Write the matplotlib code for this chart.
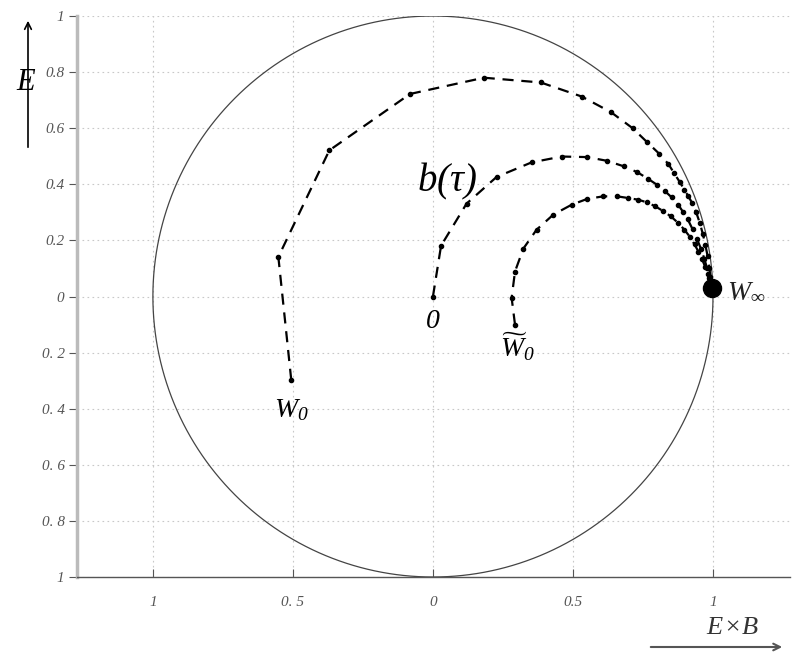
import numpy as np
import matplotlib
matplotlib.use("Agg")
import matplotlib.pyplot as plt

plt.rcParams['mathtext.fontset'] = 'custom'
plt.rcParams['mathtext.rm'] = 'Liberation Serif:italic'
plt.rcParams['mathtext.it'] = 'Liberation Serif:italic'
plt.rcParams['mathtext.bf'] = 'Liberation Serif:bold'
plt.rcParams['mathtext.fallback'] = 'stix'

# --- data ---
outer_x = [-0.506, -0.552, -0.370, -0.082, 0.182, 0.385, 0.531, 0.636, 0.713, 0.765,
           0.808, 0.841, 0.861, 0.882, 0.898, 0.912, 0.926, 0.940, 0.953, 0.964,
           0.973, 0.981, 0.987, 0.991, 0.995]
outer_y = [-0.297, 0.141, 0.521, 0.722, 0.780, 0.763, 0.713, 0.657, 0.600, 0.550,
           0.509, 0.472, 0.440, 0.407, 0.381, 0.357, 0.333, 0.300, 0.262, 0.222,
           0.183, 0.143, 0.103, 0.068, 0.031]

mid_x = [0.0, 0.029, 0.120, 0.227, 0.352, 0.460, 0.551, 0.620, 0.682, 0.730,
         0.769, 0.799, 0.829, 0.852, 0.876, 0.894, 0.910, 0.927, 0.943, 0.957,
         0.969, 0.979, 0.987, 0.995]
mid_y = [0.0, 0.181, 0.331, 0.426, 0.478, 0.499, 0.497, 0.484, 0.464, 0.443,
         0.419, 0.399, 0.375, 0.354, 0.327, 0.300, 0.275, 0.240, 0.205, 0.170,
         0.135, 0.100, 0.065, 0.031]

inner_x = [0.293, 0.281, 0.293, 0.323, 0.370, 0.430, 0.495, 0.551, 0.608, 0.658,
           0.698, 0.733, 0.763, 0.793, 0.823, 0.849, 0.876, 0.898, 0.918, 0.934,
           0.948, 0.961, 0.972, 0.982, 0.989, 0.995]
inner_y = [-0.100, -0.005, 0.089, 0.171, 0.238, 0.292, 0.327, 0.348, 0.357, 0.357,
           0.351, 0.345, 0.336, 0.322, 0.304, 0.286, 0.262, 0.238, 0.212, 0.186,
           0.160, 0.133, 0.106, 0.080, 0.055, 0.031]

w_inf = (0.995, 0.031)

x_ticks = [-1, -0.5, 0, 0.5, 1]
x_ticklabels = ['1', '0. 5', '0', '0.5', '1']
y_ticks = [1, 0.8, 0.6, 0.4, 0.2, 0, -0.2, -0.4, -0.6, -0.8, -1]
y_ticklabels = ['1', '0.8', '0.6', '0.4', '0.2', '0', '0. 2', '0. 4', '0. 6', '0. 8', '1']

# --- figure ---
fig = plt.figure(figsize=(7.95, 6.53), dpi=100)
ax = fig.add_axes([77/795, 1-577/653, (790-77)/795, (577-16)/653])
ax.set_xlim(-1.271, 1.275)
ax.set_ylim(-1, 1)

# grid
ax.set_xticks(x_ticks)
ax.set_yticks(y_ticks)
ax.grid(True, linestyle=(0, (1.5, 3)), color='#c8c8c8', linewidth=0.8)
ax.set_axisbelow(True)

# circle
t = np.linspace(0, 2*np.pi, 721)
ax.plot(np.cos(t), np.sin(t), color='#444444', linewidth=0.9, zorder=2)

# trajectories
for xs, ys in [(outer_x, outer_y), (mid_x, mid_y), (inner_x, inner_y)]:
    ax.plot(xs, ys, color='black', linestyle=(0, (5, 3.5)), linewidth=1.6,
            marker='o', markersize=3, zorder=3)

ax.plot([w_inf[0]], [w_inf[1]], 'o', color='black', markersize=13, zorder=4)

# labels
ax.text(0.05, 0.41, r'$b(\tau)$', fontsize=28, ha='center', va='center', zorder=5)
ax.text(0.0, -0.085, r'$0$', fontsize=20, ha='center', va='center')
ax.text(-0.504, -0.40, r'$W_0$', fontsize=20, ha='center', va='center')
ax.text(0.30, -0.18, r'$\widetilde{W}_0$', fontsize=20, ha='center', va='center')
ax.text(1.05, 0.022, r'$W_{\infty}$', fontsize=20, ha='left', va='center', color='#222222')

# ticks
ax.set_xticklabels(x_ticklabels)
ax.set_yticklabels(y_ticklabels)
for lab in ax.get_xticklabels() + ax.get_yticklabels():
    lab.set_fontfamily('Liberation Serif')
    lab.set_fontstyle('italic')
    lab.set_color('#555555')
    lab.set_fontsize(11)
ax.tick_params(axis='x', direction='in', length=6, color='#555555', pad=14)
ax.tick_params(axis='y', direction='out', length=6, color='#555555', pad=3)

for s in ['top', 'right']:
    ax.spines[s].set_visible(False)
ax.spines['left'].set_color('#bbbbbb')
ax.spines['left'].set_linewidth(2.5)
ax.spines['bottom'].set_color('#555555')
ax.spines['bottom'].set_linewidth(1.0)

# axis direction arrows
fig.patches.append(matplotlib.patches.FancyArrowPatch(
    (28/795, 1-150/653), (28/795, 1-18/653), transform=fig.transFigure,
    arrowstyle='->', mutation_scale=12, color='black', linewidth=1.2))
fig.text(26/795, 1-82/653, r'$E$', fontsize=22, ha='center', va='center')

fig.patches.append(matplotlib.patches.FancyArrowPatch(
    (648/795, 1-647/653), (785/795, 1-647/653), transform=fig.transFigure,
    arrowstyle='->', mutation_scale=12, color='#555555', linewidth=1.5))
fig.text(733/795, 1-627/653, r'$E\!\times\!B$', fontsize=19, ha='center', va='center',
         color='#333333')

fig.savefig('out.png', dpi=100)
